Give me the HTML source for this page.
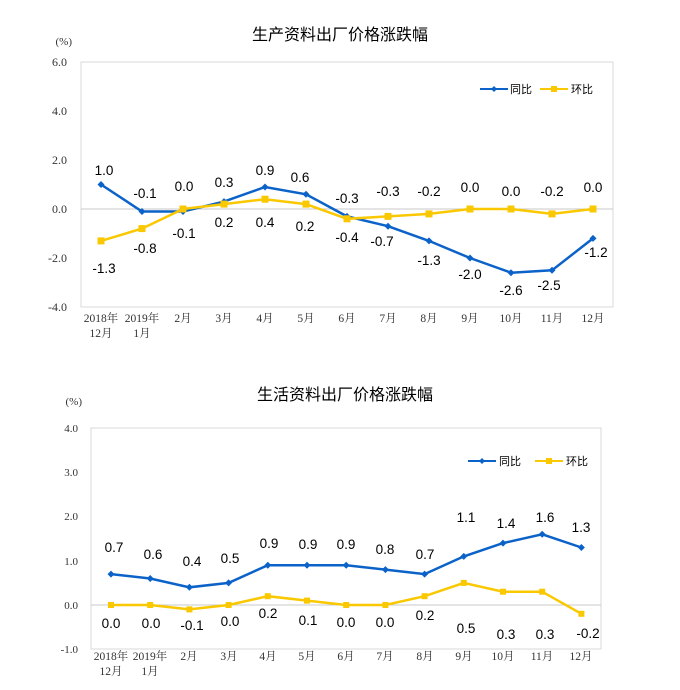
<!DOCTYPE html>
<html><head><meta charset="utf-8"><style>
body{margin:0;background:#fff;}
svg{display:block;}
.t{font-family:"Liberation Sans","Noto Sans CJK SC",sans-serif;font-size:16px;fill:#000;text-anchor:middle}
.ax{font-family:"Liberation Serif","Noto Serif CJK SC",serif;font-size:12px;fill:#333;text-anchor:end}
.xl{font-family:"Liberation Serif","Noto Serif CJK SC",serif;font-size:11.5px;fill:#333;text-anchor:middle}
.dl{font-family:"Liberation Sans",sans-serif;font-size:13.5px;fill:#000;text-anchor:middle}
.lg{font-family:"Liberation Sans","Noto Sans CJK SC",sans-serif;font-size:11px;fill:#000}
.b{fill:none;stroke:#0b62c8;stroke-width:2.5}
.y{fill:none;stroke:#fac800;stroke-width:2.5}
</style></head><body>
<svg width="680" height="690" viewBox="0 0 680 690">
<!-- Chart 1 -->
<text class="t" x="340" y="40">生产资料出厂价格涨跌幅</text>
<text class="ax" x="72" y="45" style="font-size:11px">(%)</text>
<rect x="81" y="62" width="532" height="245" fill="none" stroke="#d9d9d9"/>
<line x1="81" y1="209" x2="613" y2="209" stroke="#c8c8c8"/>
<g class="ax"><text x="67" y="66">6.0</text><text x="67" y="115">4.0</text><text x="67" y="164">2.0</text><text x="67" y="213">0.0</text><text x="67" y="262">-2.0</text><text x="67" y="311">-4.0</text></g>
<g class="xl"><text x="101" y="322">2018年</text><text x="101" y="337">12月</text><text x="142" y="322">2019年</text><text x="142" y="337">1月</text><text x="183" y="322">2月</text><text x="224" y="322">3月</text><text x="265" y="322">4月</text><text x="306" y="322">5月</text><text x="347" y="322">6月</text><text x="388" y="322">7月</text><text x="429" y="322">8月</text><text x="470" y="322">9月</text><text x="511" y="322">10月</text><text x="552" y="322">11月</text><text x="593" y="322">12月</text></g>
<polyline class="b" points="101,184.5 142,211.5 183,211.5 224,201.6 265,187 306,194.3 347,216.4 388,226.2 429,240.9 470,258 511,272.7 552,270.3 593,238.4"/>
<polyline class="y" points="101,240.9 142,228.6 183,209 224,204.1 265,199.2 306,204.1 347,218.8 388,216.4 429,213.9 470,209 511,209 552,213.9 593,209"/>
<g fill="#0b62c8"><path d="M101,181l3.5,3.5-3.5,3.5-3.5-3.5z M142,208l3.5,3.5-3.5,3.5-3.5-3.5z M183,208l3.5,3.5-3.5,3.5-3.5-3.5z M224,198.1l3.5,3.5-3.5,3.5-3.5-3.5z M265,183.5l3.5,3.5-3.5,3.5-3.5-3.5z M306,190.8l3.5,3.5-3.5,3.5-3.5-3.5z M347,212.9l3.5,3.5-3.5,3.5-3.5-3.5z M388,222.7l3.5,3.5-3.5,3.5-3.5-3.5z M429,237.4l3.5,3.5-3.5,3.5-3.5-3.5z M470,254.5l3.5,3.5-3.5,3.5-3.5-3.5z M511,269.2l3.5,3.5-3.5,3.5-3.5-3.5z M552,266.8l3.5,3.5-3.5,3.5-3.5-3.5z M593,234.9l3.5,3.5-3.5,3.5-3.5-3.5z"/></g>
<g fill="#fac800"><rect x="97.5" y="237.4" width="7" height="7"/><rect x="138.5" y="225.1" width="7" height="7"/><rect x="179.5" y="205.5" width="7" height="7"/><rect x="220.5" y="200.6" width="7" height="7"/><rect x="261.5" y="195.7" width="7" height="7"/><rect x="302.5" y="200.6" width="7" height="7"/><rect x="343.5" y="215.3" width="7" height="7"/><rect x="384.5" y="212.9" width="7" height="7"/><rect x="425.5" y="210.4" width="7" height="7"/><rect x="466.5" y="205.5" width="7" height="7"/><rect x="507.5" y="205.5" width="7" height="7"/><rect x="548.5" y="210.4" width="7" height="7"/><rect x="589.5" y="205.5" width="7" height="7"/></g>
<g class="dl">
<text x="104" y="175">1.0</text><text x="145" y="198">-0.1</text><text x="184" y="191">0.0</text><text x="224" y="187">0.3</text><text x="265" y="175">0.9</text><text x="300" y="182">0.6</text><text x="347" y="203">-0.3</text><text x="388" y="196">-0.3</text><text x="429" y="196">-0.2</text><text x="470" y="192">0.0</text><text x="511" y="196">0.0</text><text x="552" y="196">-0.2</text><text x="593" y="192">0.0</text>
<text x="104" y="273">-1.3</text><text x="145" y="253">-0.8</text><text x="184" y="238">-0.1</text><text x="224" y="227">0.2</text><text x="265" y="227">0.4</text><text x="305" y="231">0.2</text><text x="347" y="242">-0.4</text><text x="382" y="246">-0.7</text><text x="429" y="265">-1.3</text><text x="470" y="279">-2.0</text><text x="511" y="295">-2.6</text><text x="549" y="290">-2.5</text><text x="596" y="257">-1.2</text>
</g>
<line x1="480" y1="89" x2="508" y2="89" class="b" style="stroke-width:2"/><path d="M494,86l3,3-3,3-3-3z" fill="#0b62c8"/><text class="lg" x="510" y="93">同比</text>
<line x1="540" y1="89" x2="568" y2="89" class="y" style="stroke-width:2"/><rect x="551" y="86" width="6" height="6" fill="#fac800"/><text class="lg" x="571" y="93">环比</text>

<!-- Chart 2 -->
<text class="t" x="345" y="400">生活资料出厂价格涨跌幅</text>
<text class="ax" x="82" y="405" style="font-size:11px">(%)</text>
<rect x="91" y="428" width="510" height="221" fill="none" stroke="#d9d9d9"/>
<line x1="91" y1="605" x2="601" y2="605" stroke="#c8c8c8"/>
<g class="ax" style="font-size:11px"><text x="78" y="432">4.0</text><text x="78" y="476">3.0</text><text x="78" y="520">2.0</text><text x="78" y="565">1.0</text><text x="78" y="609">0.0</text><text x="78" y="653">-1.0</text></g>
<g class="xl"><text x="111" y="660">2018年</text><text x="111" y="675">12月</text><text x="150" y="660">2019年</text><text x="150" y="675">1月</text><text x="189" y="660">2月</text><text x="229" y="660">3月</text><text x="268" y="660">4月</text><text x="307" y="660">5月</text><text x="346" y="660">6月</text><text x="385" y="660">7月</text><text x="425" y="660">8月</text><text x="464" y="660">9月</text><text x="503" y="660">10月</text><text x="542" y="660">11月</text><text x="581" y="660">12月</text></g>
<polyline class="b" points="111,574.1 150.2,578.5 189.4,587.3 228.6,582.9 267.8,565.2 307,565.2 346.2,565.2 385.4,569.6 424.6,574.1 463.8,556.4 503,543.1 542.2,534.3 581.4,547.5"/>
<polyline class="y" points="111,605 150.2,605 189.4,609.4 228.6,605 267.8,596.2 307,600.6 346.2,605 385.4,605 424.6,596.2 463.8,582.9 503,591.7 542.2,591.7 581.4,613.8"/>
<g fill="#0b62c8"><path d="M111,570.6l3.5,3.5-3.5,3.5-3.5-3.5z M150.2,575l3.5,3.5-3.5,3.5-3.5-3.5z M189.4,583.8l3.5,3.5-3.5,3.5-3.5-3.5z M228.6,579.4l3.5,3.5-3.5,3.5-3.5-3.5z M267.8,561.7l3.5,3.5-3.5,3.5-3.5-3.5z M307,561.7l3.5,3.5-3.5,3.5-3.5-3.5z M346.2,561.7l3.5,3.5-3.5,3.5-3.5-3.5z M385.4,566.1l3.5,3.5-3.5,3.5-3.5-3.5z M424.6,570.6l3.5,3.5-3.5,3.5-3.5-3.5z M463.8,552.9l3.5,3.5-3.5,3.5-3.5-3.5z M503,539.6l3.5,3.5-3.5,3.5-3.5-3.5z M542.2,530.8l3.5,3.5-3.5,3.5-3.5-3.5z M581.4,544l3.5,3.5-3.5,3.5-3.5-3.5z"/></g>
<g fill="#fac800"><rect x="108" y="602" width="6" height="6"/><rect x="147.2" y="602" width="6" height="6"/><rect x="186.4" y="606.4" width="6" height="6"/><rect x="225.6" y="602" width="6" height="6"/><rect x="264.8" y="593.2" width="6" height="6"/><rect x="304" y="597.6" width="6" height="6"/><rect x="343.2" y="602" width="6" height="6"/><rect x="382.4" y="602" width="6" height="6"/><rect x="421.6" y="593.2" width="6" height="6"/><rect x="460.8" y="579.9" width="6" height="6"/><rect x="500" y="588.7" width="6" height="6"/><rect x="539.2" y="588.7" width="6" height="6"/><rect x="578.4" y="610.8" width="6" height="6"/></g>
<g class="dl">
<text x="114" y="552">0.7</text><text x="153" y="559">0.6</text><text x="192" y="566">0.4</text><text x="230" y="563">0.5</text><text x="269" y="548">0.9</text><text x="308" y="549">0.9</text><text x="346" y="549">0.9</text><text x="385" y="554">0.8</text><text x="425" y="559">0.7</text><text x="466" y="522">1.1</text><text x="506" y="528">1.4</text><text x="545" y="522">1.6</text><text x="581" y="532">1.3</text>
<text x="111" y="628">0.0</text><text x="151" y="628">0.0</text><text x="192" y="630">-0.1</text><text x="230" y="626">0.0</text><text x="268" y="618">0.2</text><text x="308" y="625">0.1</text><text x="346" y="627">0.0</text><text x="385" y="627">0.0</text><text x="425" y="620">0.2</text><text x="466" y="633">0.5</text><text x="506" y="639">0.3</text><text x="545" y="639">0.3</text><text x="588" y="638">-0.2</text>
</g>
<line x1="468" y1="461" x2="496" y2="461" class="b" style="stroke-width:2"/><path d="M482,458l3,3-3,3-3-3z" fill="#0b62c8"/><text class="lg" x="499" y="465">同比</text>
<line x1="535" y1="461" x2="563" y2="461" class="y" style="stroke-width:2"/><rect x="546" y="458" width="6" height="6" fill="#fac800"/><text class="lg" x="566" y="465">环比</text>
</svg>
</body></html>
